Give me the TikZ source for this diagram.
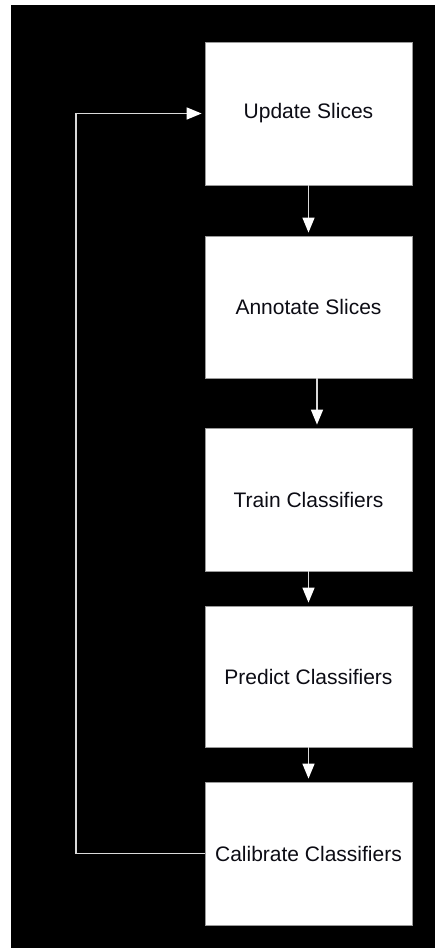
\documentclass[tikz,border=0pt]{standalone}
\usepackage{fontspec}
\setmainfont{Liberation Sans}
\usetikzlibrary{arrows.meta}
\definecolor{wire}{HTML}{DADADA}
\definecolor{frame}{HTML}{9A9A9A}
\definecolor{label}{HTML}{0C0C14}
\begin{document}
\begin{tikzpicture}[x=1pt,y=-1pt,
  stepbox/.style={draw=frame,line width=0.8pt,fill=white,inner sep=0pt,
    minimum width=207pt,text=label,font=\fontsize{21}{25}\selectfont},
  flow/.style={draw=wire,line width=1.5pt,
    -{Triangle[width=12pt,length=15pt,fill=white,color=white]},shorten >=3pt}]
  % page and dark canvas
  \fill[white] (0,0) rectangle (435,949);
  \fill[black] (11,5) rectangle (435,948);
  \useasboundingbox (0,0) rectangle (435,949);

  % process steps
  \node[stepbox,minimum height=143pt] (upd) at (308.5,113.5) {Update Slices};
  \node[stepbox,minimum height=142pt] (ann) at (308.5,307) {Annotate Slices};
  \node[stepbox,minimum height=143pt] (trn) at (308.5,499.5) {Train Classifiers};
  \node[stepbox,minimum height=141pt] (prd) at (308.5,676.5) {Predict Classifiers};
  \node[stepbox,minimum height=143pt] (cal) at (308.5,853.5) {Calibrate Classifiers};

  % forward arrows
  \draw[flow] (upd.south) -- (ann.north);
  \draw[flow] ([xshift=8.5pt]ann.south) -- ([xshift=8.5pt]trn.north);
  \draw[flow] (trn.south) -- (prd.north);
  \draw[flow] (prd.south) -- (cal.north);

  % feedback loop
  \coordinate (loopx) at (76,0);
  \draw[flow] (cal.west) -- (cal.west -| loopx) |- (upd.west);
\end{tikzpicture}
\end{document}
